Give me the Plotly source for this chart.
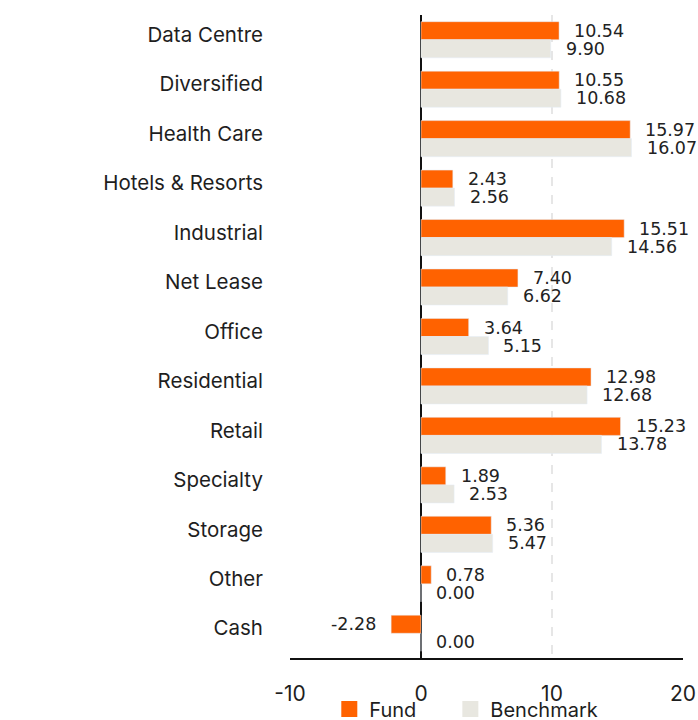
import plotly.graph_objects as go

categories = ["Data Centre", "Diversified", "Health Care", "Hotels & Resorts", "Industrial",
              "Net Lease", "Office", "Residential", "Retail", "Specialty", "Storage",
              "Other", "Cash"]
fund = [10.54, 10.55, 15.97, 2.43, 15.51, 7.40, 3.64, 12.98, 15.23, 1.89, 5.36, 0.78, -2.28]
benchmark = [9.90, 10.68, 16.07, 2.56, 14.56, 6.62, 5.15, 12.68, 13.78, 2.53, 5.47, 0.00, 0.00]
x_ticks = [-10, 0, 10, 20]
x_tick_text = ["-10", "0", "10", "20"]

FUND_COLOR = "#FF6200"
BENCH_COLOR = "#E8E7E0"
FONT = "Inter, Roboto, sans-serif"
VALUE_FONT = "DejaVu Sans, sans-serif"
TEXT_COLOR = "#1E1E1E"

fig = go.Figure()
fig.add_trace(go.Bar(y=categories, x=fund, orientation="h", name="Fund",
                     marker=dict(color=FUND_COLOR), showlegend=False))
fig.add_trace(go.Bar(y=categories, x=benchmark, orientation="h", name="Benchmark",
                     marker=dict(color=BENCH_COLOR), showlegend=False))

# square swatches, one small legend per series
for name, color, leg in (("Fund", FUND_COLOR, "legend"), ("Benchmark", BENCH_COLOR, "legend2")):
    fig.add_trace(go.Scatter(x=[None], y=[None], mode="markers", name=name, legend=leg,
                             marker=dict(symbol="square", size=17, color=color)))

# value labels beside each bar
for series, shift in ((fund, 9), (benchmark, -9)):
    for cat, v in zip(categories, series):
        fig.add_annotation(x=v, y=cat, text=f"{v:.2f}", showarrow=False,
                           xanchor="left" if v >= 0 else "right",
                           xshift=13 if v >= 0 else -13, yshift=shift,
                           font=dict(family=VALUE_FONT, size=17.5, color="#222222"))

legend_style = dict(orientation="h", xanchor="left", y=-0.049, yanchor="top",
                    font=dict(size=20), itemsizing="trace", bgcolor="rgba(0,0,0,0)")

fig.update_layout(
    width=698, height=720,
    margin=dict(l=290, r=15, t=15, b=62, autoexpand=False),
    barmode="group", bargap=0.27, bargroupgap=0,
    plot_bgcolor="white", paper_bgcolor="white",
    font=dict(family=FONT, size=20, color=TEXT_COLOR),
    legend=dict(x=0.1, **legend_style),
    legend2=dict(x=0.408, **legend_style),
    showlegend=True,
)
fig.update_xaxes(range=[-10, 20], tickvals=x_ticks, ticktext=x_tick_text, showgrid=True,
                 gridcolor="#E6E6E6", griddash="dash", gridwidth=1.5, zeroline=True,
                 zerolinecolor="#111111", zerolinewidth=1.5, showline=True,
                 linecolor="#111111", linewidth=1.5, ticks="", ticklabelstandoff=16,
                 tickfont=dict(size=21))
fig.update_yaxes(autorange="reversed", showgrid=False, ticks="",
                 ticklabelstandoff=26, ticklabelshift=5, tickfont=dict(size=20.5))

fig.write_html("out.html")
